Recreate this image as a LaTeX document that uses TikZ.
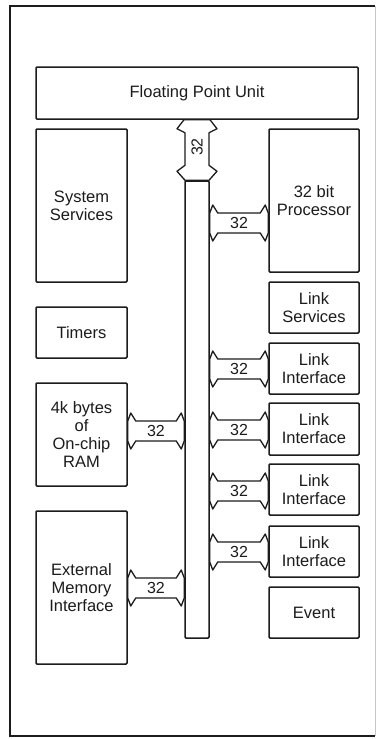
\documentclass[tikz,border=0pt]{standalone}
\usepackage{fontspec}
\setmainfont{Liberation Sans}
\usetikzlibrary{calc}
\definecolor{ink}{HTML}{1C1C1C}
\tikzset{
  box/.style={draw=ink, line width=1.5pt, rounded corners=1pt, align=center,
    font=\fontsize{16.5}{18}\selectfont, text=ink, inner sep=0pt},
  busarrow/.style={draw=ink, line width=1.3pt, fill=white, line join=round},
  lbl/.style={font=\fontsize{16}{18}\selectfont, text=ink, inner sep=0pt}
}
\newcommand\harrow[3]{%
  \draw[busarrow] let \p1=(#1), \p2=(#2) in
    (\x1,#3+10pt) -- (\x1+3pt,#3+18pt) -- (\x1+8pt,#3+10pt) -- (\x2-8pt,#3+10pt)
    -- (\x2-3pt,#3+18pt) -- (\x2,#3+10pt) -- (\x2,#3-10pt) -- (\x2-3pt,#3-18pt)
    -- (\x2-8pt,#3-10pt) -- (\x1+8pt,#3-10pt) -- (\x1+3pt,#3-18pt) -- (\x1,#3-10pt) -- cycle
    ({(\x1+\x2)/2},#3) node[lbl]{32};
}
\begin{document}
\begin{tikzpicture}[x=1pt,y=1pt]
\fill[white] (0,0) rectangle (381,-739);
\useasboundingbox (0,0) rectangle (381,-739);
% frame
\draw[ink, line width=2.8pt] (375,-6) -- (10,-6) -- (10,-736) -- (375,-736);
\draw[gray!45, line width=0.8pt] (375,-6) -- (375,-736);
% boxes
\node[box, minimum width=322, minimum height=52] (fpu) at (197,-93) {Floating Point Unit};
\node[box, minimum width=91, minimum height=153] (sys) at (81.5,-205.5) {System\\Services};
\node[box, minimum width=91, minimum height=51] (tim) at (81.5,-332.5) {Timers};
\node[box, minimum width=91, minimum height=103] (ram) at (81.5,-434.5) {4k bytes\\of\\On-chip\\RAM};
\node[box, minimum width=91, minimum height=153] (emi) at (81.5,-587.5) {External\\Memory\\Interface};
\node[box, minimum width=90, minimum height=143] (proc) at (314,-200.5) {32 bit\\Processor};
\node[box, minimum width=90, minimum height=51] (lsv) at (314,-307.5) {Link\\Services};
\node[box, minimum width=90, minimum height=51] (li1) at (314,-368.5) {Link\\Interface};
\node[box, minimum width=90, minimum height=52] (li2) at (314,-429) {Link\\Interface};
\node[box, minimum width=90, minimum height=51] (li3) at (314,-489.5) {Link\\Interface};
\node[box, minimum width=90, minimum height=51] (li4) at (314,-551.5) {Link\\Interface};
\node[box, minimum width=90, minimum height=51] (evt) at (314,-612.5) {Event};
\node[box, minimum width=24, minimum height=457] (bus) at (197,-409.5) {};
% vertical arrow FPU <-> bus
\draw[busarrow] let \p1=(fpu.south), \p2=(bus.north) in
  (\x2-13pt,\y1) -- (\x2+13pt,\y1) -- (\x2+20pt,\y1-9pt) -- (\x2+12pt,\y1-13pt)
  -- (\x2+12pt,\y2+15pt) -- (\x2+20pt,\y2+9pt) -- (\x2+12pt,\y2) -- (\x2-12pt,\y2)
  -- (\x2-20pt,\y2+9pt) -- (\x2-12pt,\y2+15pt) -- (\x2-12pt,\y1-13pt) -- (\x2-20pt,\y1-9pt) -- cycle
  (\x2,{(\y1+\y2)/2+3pt}) node[lbl, rotate=90]{32};
% horizontal arrows
\harrow{bus.east}{proc.west}{-223pt}
\harrow{bus.east}{li1.west}{-369pt}
\harrow{bus.east}{li2.west}{-430pt}
\harrow{bus.east}{li3.west}{-491pt}
\harrow{bus.east}{li4.west}{-552pt}
\harrow{ram.east}{bus.west}{-431pt}
\harrow{emi.east}{bus.west}{-588pt}
\end{tikzpicture}
\end{document}
